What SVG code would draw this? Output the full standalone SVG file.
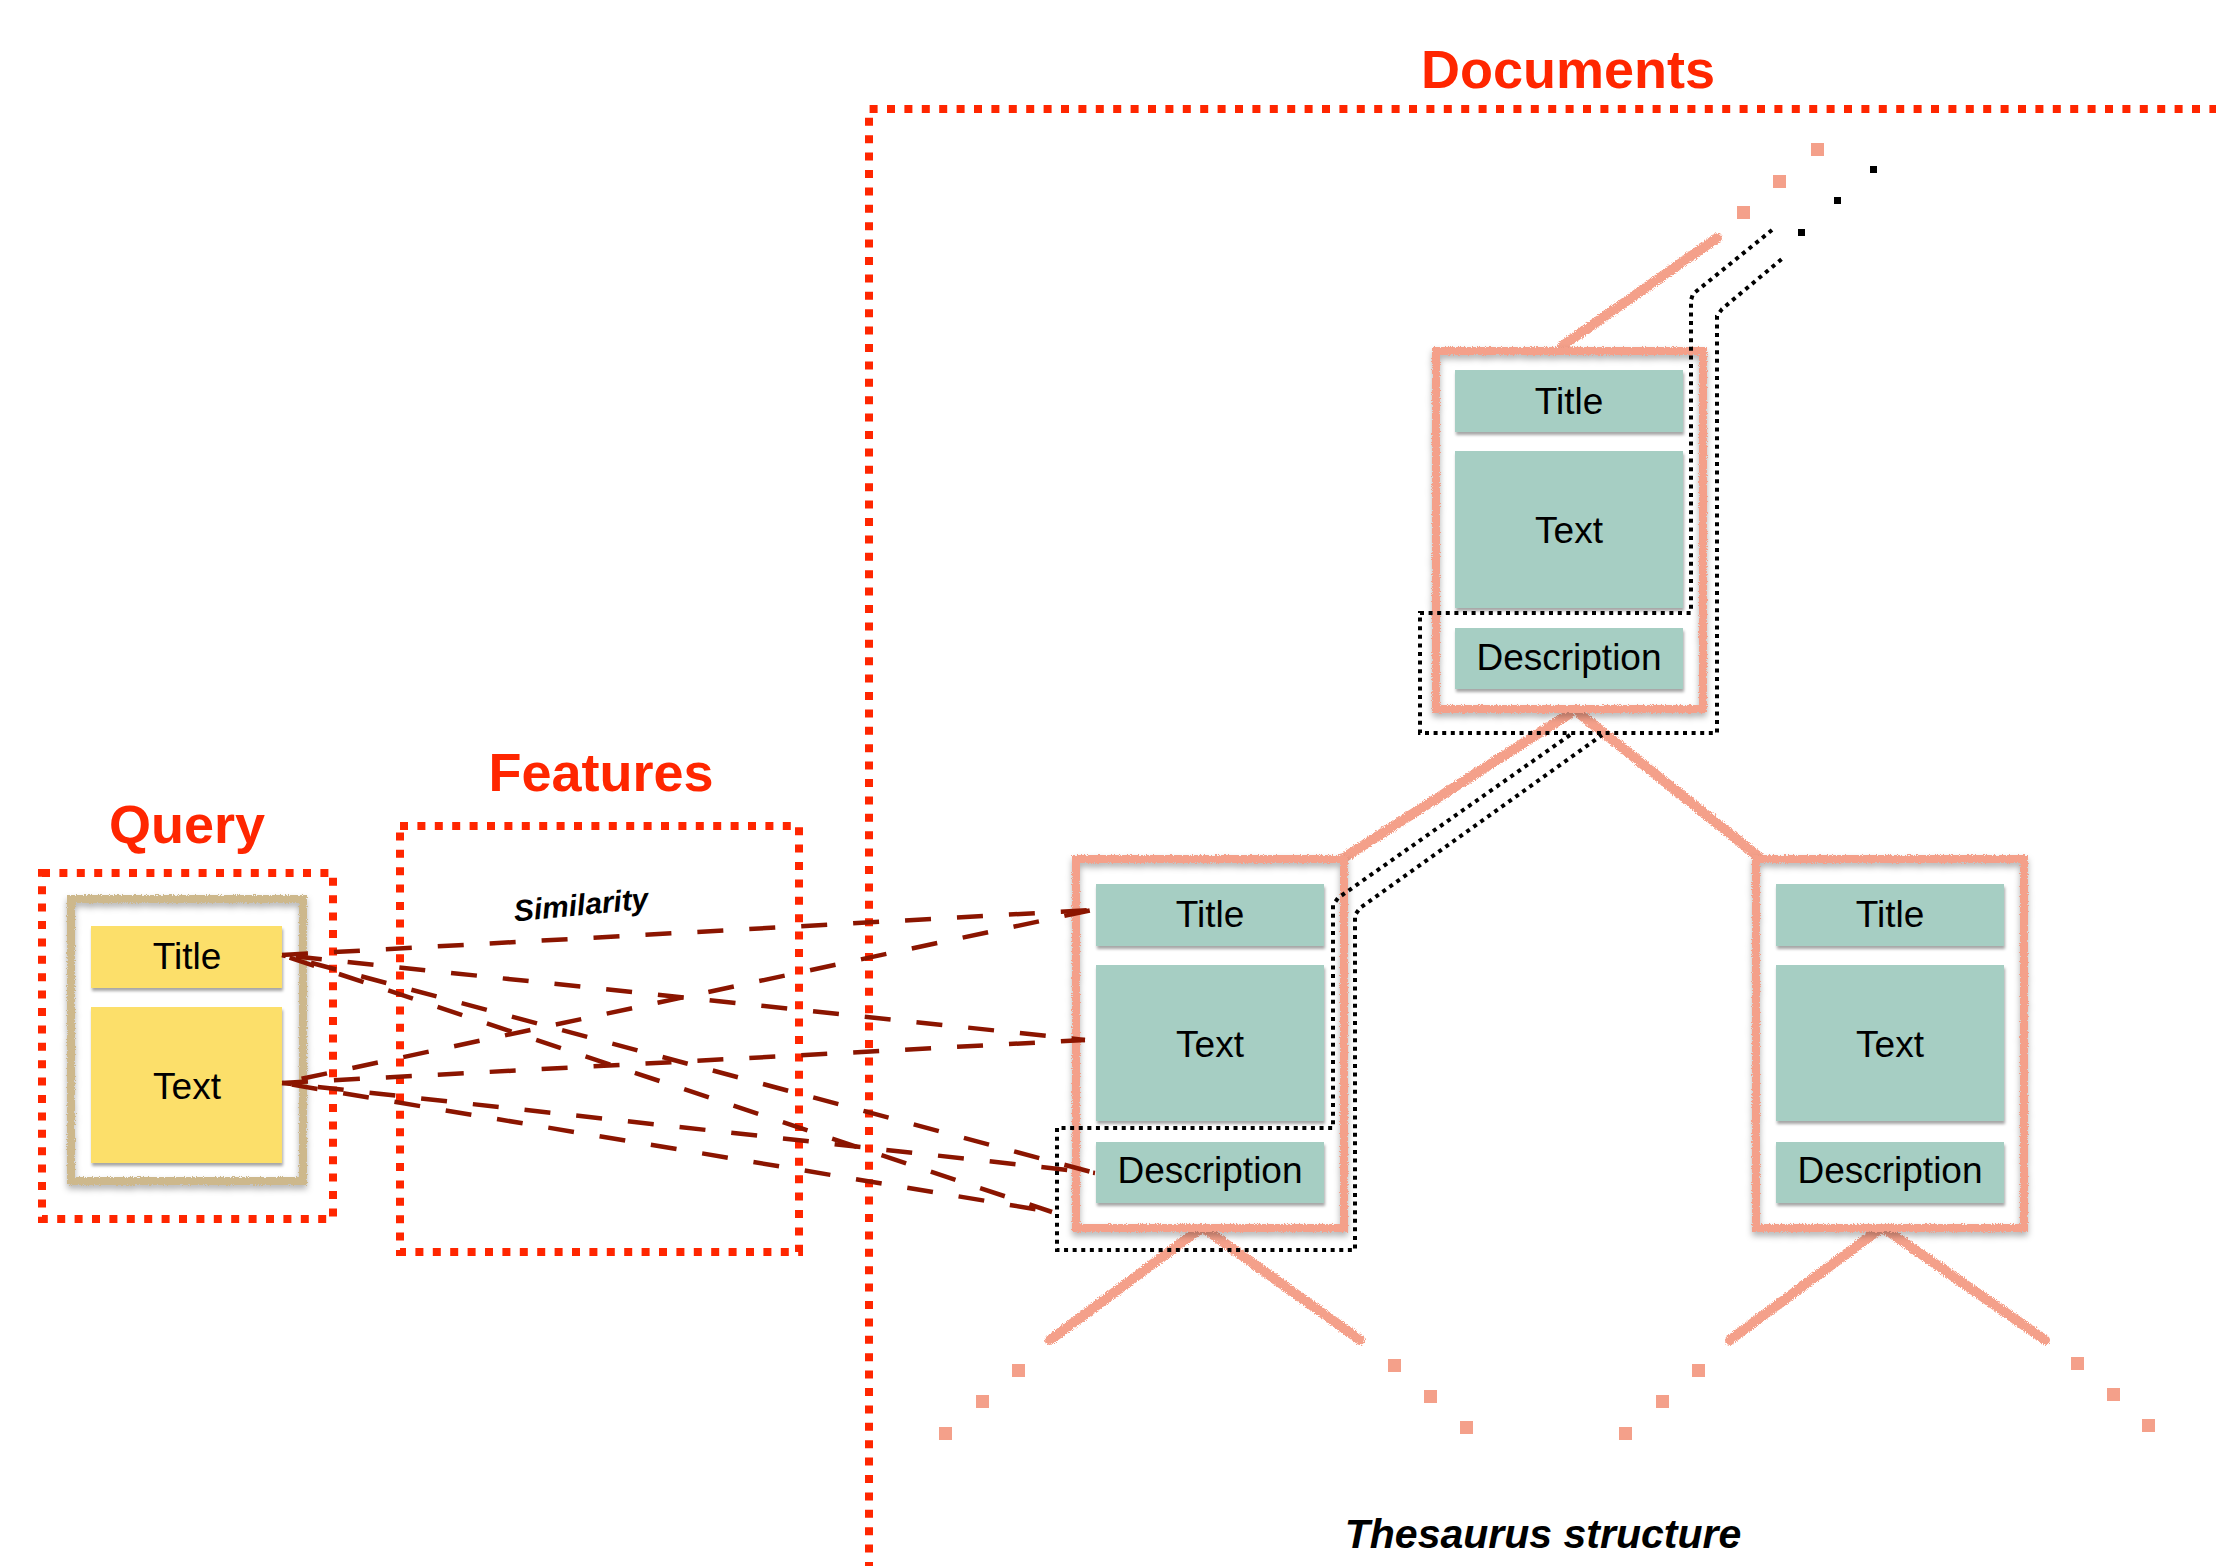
<svg xmlns="http://www.w3.org/2000/svg" width="2216" height="1566" viewBox="0 0 2216 1566">
  <defs>
    <!-- rough crayon edge -->
    <filter id="chalk" filterUnits="userSpaceOnUse" x="0" y="0" width="2216" height="1566">
      <feTurbulence type="fractalNoise" baseFrequency="0.9" numOctaves="2" seed="4" result="noise"/>
      <feDisplacementMap in="SourceGraphic" in2="noise" scale="5" xChannelSelector="R" yChannelSelector="G"/>
    </filter>
    <!-- rough crayon edge with soft shadow -->
    <filter id="chalkShadow" filterUnits="userSpaceOnUse" x="0" y="0" width="2216" height="1566">
      <feTurbulence type="fractalNoise" baseFrequency="0.9" numOctaves="2" seed="7" result="noise"/>
      <feDisplacementMap in="SourceGraphic" in2="noise" scale="4" xChannelSelector="R" yChannelSelector="G" result="rough"/>
      <feDropShadow in="rough" dx="0" dy="4" stdDeviation="3" flood-color="#000" flood-opacity="0.3"/>
    </filter>
    <filter id="cardShadow" x="-5%" y="-10%" width="110%" height="130%">
      <feDropShadow dx="1" dy="3" stdDeviation="1.5" flood-color="#000" flood-opacity="0.35"/>
    </filter>
  </defs>
  <style>
    .heading { font-family: "Liberation Sans", Arial, sans-serif; font-weight: bold; font-size: 54px; fill: #FF2600; text-anchor: middle; }
    .label { font-family: "Liberation Sans", Arial, sans-serif; font-size: 37px; fill: #000; text-anchor: middle; }
    .note { font-family: "Liberation Sans", Arial, sans-serif; font-weight: bold; font-style: italic; fill: #000; text-anchor: middle; }
    .region { fill: none; stroke: #FF2600; stroke-width: 8; stroke-dasharray: 8 9.4; }
    .frame { fill: none; stroke: #F4A08A; stroke-width: 8; filter: url(#chalkShadow); }
    .qframe { fill: none; stroke: #CDB88C; stroke-width: 8; filter: url(#chalkShadow); }
    .card { fill: #A6CEC3; filter: url(#cardShadow); }
    .qcard { fill: #FCDF6B; filter: url(#cardShadow); }
    .branch { fill: none; stroke: #F4A08A; stroke-width: 10; stroke-linecap: round; filter: url(#chalk); }
    .more { fill: #F4A08A; }
    .moreDark { fill: #000; }
    .scope { fill: none; stroke: #000; stroke-width: 4; stroke-dasharray: 4 4.6; }
    .sim { fill: none; stroke: #8B1500; stroke-width: 4.5; stroke-dasharray: 26 26; }
  </style>

  <rect width="2216" height="1566" fill="#fff"/>

  <!-- Query region -->
  <g id="query">
    <text class="heading" x="187" y="843">Query</text>
    <rect class="region" x="42" y="873" width="291" height="346"/>
    <rect class="qframe" x="71" y="899" width="232" height="282"/>
    <rect class="qcard" x="91" y="926" width="191" height="62"/>
    <text class="label" x="187" y="969">Title</text>
    <rect class="qcard" x="91" y="1007" width="191" height="156"/>
    <text class="label" x="187" y="1099">Text</text>
  </g>

  <!-- Features region -->
  <g id="features">
    <text class="heading" x="601" y="791">Features</text>
    <rect class="region" x="400" y="826" width="399" height="426"/>
    <text class="note" font-size="30" transform="translate(582 915) rotate(-5.5)">Similarity</text>
  </g>

  <!-- Documents region -->
  <g id="documents">
    <text class="heading" x="1568" y="88">Documents</text>
    <path class="region" d="M869 1570 L869 109 L2220 109"/>
    <text class="note" font-size="41" x="1543" y="1548">Thesaurus structure</text>
  </g>

  <!-- Tree links and continuation marks -->
  <g id="connectors">
    <g id="tree-links">
      <path class="branch" d="M1562 346 L1717 238"/>
      <path class="branch" d="M1569 714 L1345 857"/>
      <path class="branch" d="M1580 714 L1759 857"/>
      <path class="branch" d="M1200 1229 L1050 1340"/>
      <path class="branch" d="M1205 1229 L1360 1340"/>
      <path class="branch" d="M1880 1229 L1730 1340"/>
      <path class="branch" d="M1885 1229 L2045 1340"/>
    </g>
    <g id="continuation">
      <rect class="more" x="1811" y="143" width="13" height="13"/>
      <rect class="more" x="1773" y="175" width="13" height="13"/>
      <rect class="more" x="1737" y="206" width="13" height="13"/>
      <rect class="moreDark" x="1870" y="166" width="7" height="7"/>
      <rect class="moreDark" x="1834" y="197" width="7" height="7"/>
      <rect class="moreDark" x="1798" y="229" width="7" height="7"/>

      <rect class="more" x="1012" y="1364" width="13" height="13"/>
      <rect class="more" x="976" y="1395" width="13" height="13"/>
      <rect class="more" x="939" y="1427" width="13" height="13"/>
      <rect class="more" x="1388" y="1359" width="13" height="13"/>
      <rect class="more" x="1424" y="1390" width="13" height="13"/>
      <rect class="more" x="1460" y="1421" width="13" height="13"/>

      <rect class="more" x="1692" y="1364" width="13" height="13"/>
      <rect class="more" x="1656" y="1395" width="13" height="13"/>
      <rect class="more" x="1619" y="1427" width="13" height="13"/>
      <rect class="more" x="2071" y="1357" width="13" height="13"/>
      <rect class="more" x="2107" y="1388" width="13" height="13"/>
      <rect class="more" x="2142" y="1419" width="13" height="13"/>
    </g>
  </g>

  <!-- Document nodes -->
  <g id="doc-top">
    <rect class="frame" x="1436" y="351" width="267" height="358"/>
    <rect class="card" x="1455" y="370" width="228" height="62"/>
    <text class="label" x="1569" y="414">Title</text>
    <rect class="card" x="1455" y="451" width="228" height="157"/>
    <text class="label" x="1569" y="543">Text</text>
    <rect class="card" x="1455" y="628" width="228" height="61"/>
    <text class="label" x="1569" y="670">Description</text>
  </g>

  <g id="doc-left">
    <rect class="frame" x="1076" y="859" width="268" height="369"/>
    <rect class="card" x="1096" y="884" width="228" height="62"/>
    <text class="label" x="1210" y="927">Title</text>
    <rect class="card" x="1096" y="965" width="228" height="156"/>
    <text class="label" x="1210" y="1057">Text</text>
    <rect class="card" x="1096" y="1142" width="228" height="61"/>
    <text class="label" x="1210" y="1183">Description</text>
  </g>

  <g id="doc-right">
    <rect class="frame" x="1756" y="859" width="268" height="369"/>
    <rect class="card" x="1776" y="884" width="228" height="62"/>
    <text class="label" x="1890" y="927">Title</text>
    <rect class="card" x="1776" y="965" width="228" height="156"/>
    <text class="label" x="1890" y="1057">Text</text>
    <rect class="card" x="1776" y="1142" width="228" height="61"/>
    <text class="label" x="1890" y="1183">Description</text>
  </g>

  <!-- Field scopes shared between parent and child -->
  <g id="scopes">
    <path class="scope" d="M1772 230 L1693 294 L1691 300 L1691 613 L1420 613 L1420 733 L1717 733 L1717 316 L1722 309 L1783 258"/>
    <path class="scope" d="M1570 735 L1338 898 L1333 905 L1333 1128 L1057 1128 L1057 1250 L1355 1250 L1355 915 L1360 908 L1602 735"/>
  </g>

  <!-- Similarity links between query fields and document fields -->
  <g id="similarity-links">
    <path class="sim" d="M282 955 L1092 910"/>
    <path class="sim" d="M282 955 L1085 1040" stroke-dashoffset="-14"/>
    <path class="sim" d="M282 955 L1095 1173" stroke-dashoffset="-30"/>
    <path class="sim" d="M282 955 L1052 1212" stroke-dashoffset="-8"/>
    <path class="sim" d="M282 1083 L1092 910" stroke-dashoffset="-20"/>
    <path class="sim" d="M282 1083 L1085 1040"/>
    <path class="sim" d="M282 1083 L1095 1173" stroke-dashoffset="-36"/>
    <path class="sim" d="M282 1083 L1052 1212" stroke-dashoffset="-10"/>
  </g>
</svg>
